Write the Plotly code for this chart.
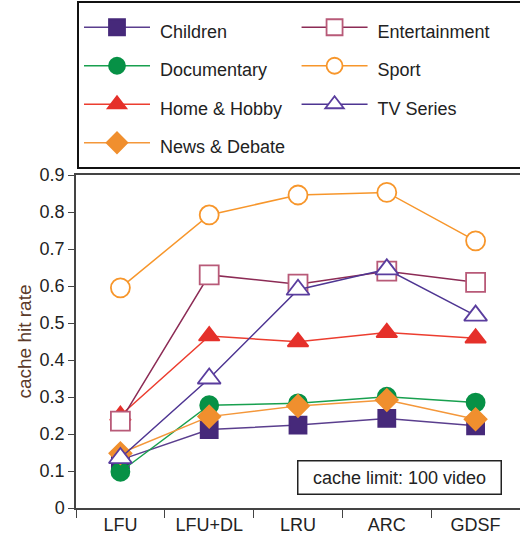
import plotly.graph_objects as go

policies = ["LFU", "LFU+DL", "LRU", "ARC", "GDSF"]

children = [0.13, 0.212, 0.224, 0.242, 0.222]
documentary = [0.098, 0.278, 0.283, 0.301, 0.285]
home_hobby = [0.25, 0.465, 0.449, 0.474, 0.459]
news_debate = [0.148, 0.247, 0.276, 0.292, 0.24]
entertainment = [0.235, 0.63, 0.605, 0.64, 0.61]
sport = [0.595, 0.792, 0.846, 0.853, 0.722]
tv_series = [0.135, 0.35, 0.59, 0.645, 0.52]

y_ticks = [0, 0.1, 0.2, 0.3, 0.4, 0.5, 0.6, 0.7, 0.8, 0.9]
y_tick_labels = ["0", "0.1", "0.2", "0.3", "0.4", "0.5", "0.6", "0.7", "0.8", "0.9"]

series = [
    # name, values, line colour, marker symbol, marker fill, marker line colour, size, legendrank
    ("Children", children, "#5a3e8e", "square", "#46297a", "#46297a", 17, 1),
    ("Documentary", documentary, "#18a04f", "circle", "#079146", "#079146", 18, 3),
    ("Home & Hobby", home_hobby, "#ec3d2f", "triangle-up", "#e5302a", "#e5302a", 18, 5),
    ("News & Debate", news_debate, "#f4973a", "diamond", "#f08f2e", "#f08f2e", 17, 7),
    ("Entertainment", entertainment, "#8c2b55", "square", "white", "#b85a78", 19, 2),
    ("Sport", sport, "#f7962b", "circle", "white", "#f7962b", 19, 4),
    ("TV Series", tv_series, "#4e3592", "triangle-up", "white", "#5a3d9e", 20, 6),
]

fig = go.Figure()
for name, vals, lc, sym, mfill, mline, size, rank in series:
    fig.add_trace(go.Scatter(
        x=policies, y=vals, mode="lines+markers",
        name='<span style="font-size:18px">\u00a0' + name + '</span>',
        legendrank=rank,
        line=dict(color=lc, width=1.5),
        marker=dict(symbol=sym, size=size, color=mfill,
                    line=dict(color=mline, width=1.8)),
    ))

fig.add_annotation(
    xref="paper", yref="paper", x=(502 - 76) / 444, y=(508 - 495) / 333,
    text="cache limit: 100 video", showarrow=False,
    xanchor="right", yanchor="bottom",
    width=194, height=24,
    font=dict(size=18, color="#222"),
    bordercolor="#222", borderwidth=1.5, borderpad=4, bgcolor="white",
)

fig.update_layout(
    width=520, height=542,
    margin=dict(l=76, r=0, t=175, b=34, autoexpand=False),
    paper_bgcolor="white", plot_bgcolor="white",
    font=dict(family="Liberation Sans, Arial, sans-serif", size=18, color="#222"),
    showlegend=True,
    legend=dict(
        orientation="h", x=(77 - 76) / 444, y=(508 - 1) / 333, xanchor="left", yanchor="top",
        entrywidth=0.49, entrywidthmode="fraction", itemwidth=66,
        font=dict(size=27.3, color="#222"),
        bordercolor="#111", borderwidth=2, bgcolor="white",
        itemclick=False, itemdoubleclick=False,
    ),
    xaxis=dict(
        range=[-0.5, 4.5], tickmode="array", tickvals=list(range(len(policies))),
        ticktext=policies, tickson="boundaries", ticks="outside", ticklen=8,
        tickcolor="#444", showline=True, linecolor="#444", linewidth=1.5,
        mirror=True, showgrid=False, zeroline=False, automargin=False,
        tickfont=dict(size=18, color="#222"),
    ),
    yaxis=dict(
        range=[0, 0.9], tickvals=y_ticks, ticktext=y_tick_labels,
        ticks="outside", ticklen=6, tickcolor="#444",
        showline=True, linecolor="#444", linewidth=1.5, mirror=True,
        showgrid=False, zeroline=False, automargin=False,
        tickfont=dict(size=18, color="#222"),
        title=dict(text="cache hit rate", font=dict(size=19, color="#5b3a2a"), standoff=3),
    ),
)

fig.write_html("out.html", config={"displayModeBar": False},
               post_script="document.body.style.margin='0';")
